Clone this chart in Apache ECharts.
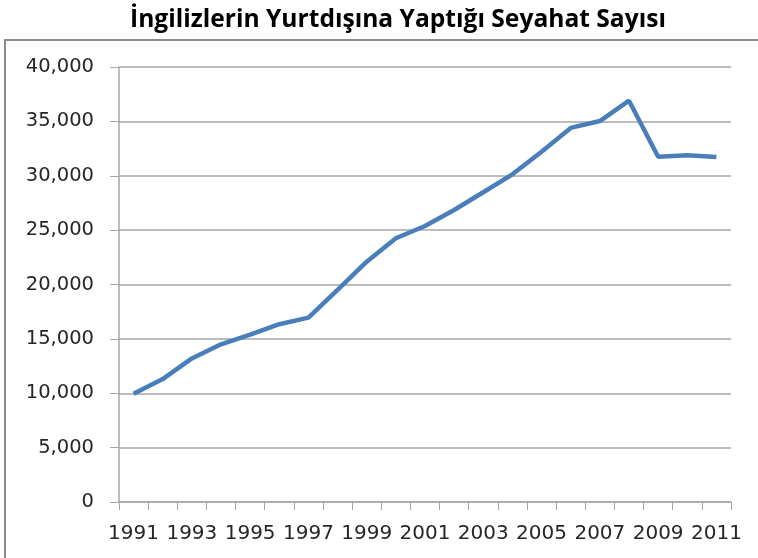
<!DOCTYPE html>
<html>
<head>
<meta charset="utf-8">
<script src="https://cdn.jsdelivr.net/npm/echarts@6/dist/echarts.min.js"></script>
<style>html,body{margin:0;padding:0;background:#fff}#c{width:758px;height:558px}</style>
</head>
<body>
<div id="c"></div>
<script>
const titleText = 'İngilizlerin Yurtdışına Yaptığı Seyahat Sayısı';
const years = ['1991','1992','1993','1994','1995','1996','1997','1998','1999','2000','2001','2002','2003','2004','2005','2006','2007','2008','2009','2010','2011'];
const trips = [9950,11300,13200,14500,15400,16350,16950,19500,22100,24250,25380,26850,28480,30130,32200,34400,35030,36900,31750,31880,31720];
const yTicks = {min:0, max:40000, interval:5000};

const chart = echarts.init(document.getElementById('c'));
chart.setOption({
  animation:false,
  title:{
    text:titleText, left:393, top:2, textAlign:'center',
    textStyle:{fontFamily:'Open Sans', fontWeight:'bold', fontSize:24.6, color:'#000'}
  },
  graphic:[{type:'rect', shape:{x:5, y:40, width:800, height:600}, style:{fill:'none', stroke:'#8c8c8c', lineWidth:2}, silent:true}],
  grid:{left:119, right:27, top:67, bottom:56},
  xAxis:{
    type:'category', data:years, boundaryGap:true,
    axisLine:{lineStyle:{color:'#a6a6a6', width:1.5}},
    axisTick:{show:true, length:8, interval:0, lineStyle:{color:'#a6a6a6'}},
    axisLabel:{interval:1, margin:22, fontFamily:'DejaVu Sans', fontSize:20, color:'#262626'}
  },
  yAxis:{
    type:'value', min:yTicks.min, max:yTicks.max, interval:yTicks.interval,
    axisLine:{show:true, lineStyle:{color:'#a6a6a6', width:1.5}},
    axisTick:{show:true, length:9, inside:false, lineStyle:{color:'#a6a6a6'}},
    splitLine:{lineStyle:{color:'#a6a6a6', width:1.5}},
    axisLabel:{margin:25, fontFamily:'DejaVu Sans', fontSize:19.5, color:'#262626',
      formatter:v=>v.toLocaleString('en-US')}
  },
  series:[{type:'line', data:trips, symbol:'none', lineStyle:{color:'#4a7ebb', width:4.5}}]
});
</script>
</body>
</html>
